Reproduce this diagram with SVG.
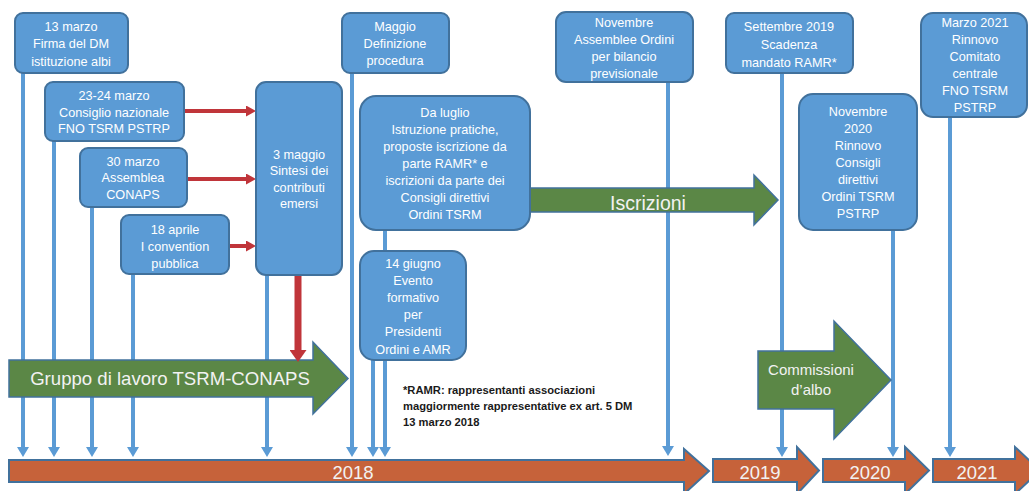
<svg xmlns="http://www.w3.org/2000/svg" width="1029" height="491" viewBox="0 0 1029 491">
<defs>
<style>
.box{fill:#5B9BD5;stroke:#41719C;stroke-width:2}
.bt{font-family:"Liberation Sans",Arial,sans-serif;font-size:12.7px;fill:#ffffff;text-anchor:middle}
.vl{stroke:#5B9BD5;stroke-width:4;fill:none}
.rl{stroke:#C0353A;stroke-width:4;fill:none}
.green{fill:#5B8746;stroke:#41719C;stroke-width:1.5}
.orange{fill:#C6623A;stroke:#41719C;stroke-width:2}
.big{font-family:"Liberation Sans",Arial,sans-serif;fill:#F2F2F2;text-anchor:middle}
.note{font-family:"Liberation Sans",Arial,sans-serif;font-size:11.2px;font-weight:bold;fill:#1A1A1A}
</style>
<marker id="ab" markerUnits="userSpaceOnUse" markerWidth="10" markerHeight="12" refX="0" refY="6" orient="auto">
<path d="M0,0 L10,6 L0,12 Z" fill="#5B9BD5"/>
</marker>
<marker id="ar" markerUnits="userSpaceOnUse" markerWidth="10" markerHeight="11" refX="0" refY="5.5" orient="auto">
<path d="M0,0 L10,5.5 L0,11 Z" fill="#C0353A"/>
</marker>
<marker id="ard" markerUnits="userSpaceOnUse" markerWidth="12" markerHeight="17" refX="0" refY="8.5" orient="auto">
<path d="M0,0 L12,8.5 L0,17 Z" fill="#C0353A"/>
</marker>
</defs>
<rect width="1029" height="491" fill="#ffffff"/>

<g id="timeline">
<polygon class="orange" points="9,460 684,460 684,449 709,471 684,494 684,482 9,482"/>
<polygon class="orange" points="713,459 797,459 797,447 819,470.5 797,494 797,482 713,482"/>
<polygon class="orange" points="823,459 905,459 905,447 929,470.5 905,494 905,482 823,482"/>
<polygon class="orange" points="933,459 1015,459 1015,447 1040,470.5 1015,494 1015,482 933,482"/>
<text class="big" x="353" y="479" font-size="18.5">2018</text>
<text class="big" x="760" y="479" font-size="18.5">2019</text>
<text class="big" x="870" y="479" font-size="18.5">2020</text>
<text class="big" x="977" y="479" font-size="18.5">2021</text>
</g>

<g id="connectors">
<line class="vl" x1="23" y1="70" x2="23" y2="447" marker-end="url(#ab)"/>
<line class="vl" x1="54" y1="138" x2="54" y2="447" marker-end="url(#ab)"/>
<line class="vl" x1="92" y1="204" x2="92" y2="447" marker-end="url(#ab)"/>
<line class="vl" x1="133" y1="271" x2="133" y2="447" marker-end="url(#ab)"/>
<line class="vl" x1="267" y1="272" x2="267" y2="447" marker-end="url(#ab)"/>
<line class="vl" x1="352" y1="70" x2="352" y2="447" marker-end="url(#ab)"/>
<line class="vl" x1="373" y1="357" x2="373" y2="447" marker-end="url(#ab)"/>
<line class="vl" x1="385" y1="227" x2="385" y2="447" marker-end="url(#ab)"/>
<line class="vl" x1="668" y1="79" x2="668" y2="446" marker-end="url(#ab)"/>
<line class="vl" x1="782" y1="70" x2="782" y2="447" marker-end="url(#ab)"/>
<line class="vl" x1="893" y1="227" x2="893" y2="447" marker-end="url(#ab)"/>
<line class="vl" x1="950" y1="114" x2="950" y2="447" marker-end="url(#ab)"/>
<line class="rl" x1="184" y1="111" x2="246" y2="111" marker-end="url(#ar)"/>
<line class="rl" x1="187" y1="179" x2="246" y2="179" marker-end="url(#ar)"/>
<line class="rl" x1="229" y1="246" x2="246" y2="246" marker-end="url(#ar)"/>
</g>

<g id="gruppo">
<polygon class="green" points="9,360 313,360 313,342 348,378.5 313,414 313,397 9,397"/>
<text class="big" x="170" y="385" font-size="18.6">Gruppo di lavoro TSRM-CONAPS</text>
</g>

<g id="iscrizioni">
<polygon class="green" points="530,188 754,188 754,175 778,200 754,225 754,212 530,212"/>
<text class="big" x="648" y="210" font-size="19.5">Iscrizioni</text>
</g>

<g id="commissioni">
<polygon class="green" points="758,351 834,351 834,321 891,380 834,439 834,409 758,409"/>
<text class="big" x="811" y="375" font-size="15">Commissioni</text>
<text class="big" x="811" y="395" font-size="15">d’albo</text>
</g>

<g id="red-down">
<line stroke="#C0353A" stroke-width="7" x1="298" y1="275" x2="298" y2="350" marker-end="url(#ard)"/>
</g>

<g id="n1">
<rect class="box" x="15" y="13" width="113" height="60" rx="8"/>
<text class="bt" x="71" y="30.5">13 marzo</text>
<text class="bt" x="71" y="48">Firma del DM</text>
<text class="bt" x="71" y="65.5">istituzione albi</text>
</g>
<g id="n2">
<rect class="box" x="45" y="82" width="139" height="59" rx="8"/>
<text class="bt" x="114" y="99.5">23-24 marzo</text>
<text class="bt" x="114" y="116.5">Consiglio nazionale</text>
<text class="bt" x="114" y="133">FNO TSRM PSTRP</text>
</g>
<g id="n3">
<rect class="box" x="80" y="148" width="107" height="59" rx="8"/>
<text class="bt" x="133" y="165.5">30 marzo</text>
<text class="bt" x="133" y="182">Assemblea</text>
<text class="bt" x="133" y="198.5">CONAPS</text>
</g>
<g id="n4">
<rect class="box" x="121" y="215" width="108" height="59" rx="8"/>
<text class="bt" x="175" y="233.5">18 aprile</text>
<text class="bt" x="175" y="250.5">I convention</text>
<text class="bt" x="175" y="267.5">pubblica</text>
</g>
<g id="n5">
<rect class="box" x="256" y="82" width="86" height="193" rx="10"/>
<text class="bt" x="299" y="158.5">3 maggio</text>
<text class="bt" x="299" y="175">Sintesi dei</text>
<text class="bt" x="299" y="191.5">contributi</text>
<text class="bt" x="299" y="208">emersi</text>
</g>
<g id="n6">
<rect class="box" x="342" y="13" width="107" height="60" rx="8"/>
<text class="bt" x="395" y="30.5">Maggio</text>
<text class="bt" x="395" y="47.5">Definizione</text>
<text class="bt" x="395" y="65">procedura</text>
</g>
<g id="n7">
<rect class="box" x="360" y="96" width="170" height="134" rx="16"/>
<text class="bt" x="445" y="116.5">Da luglio</text>
<text class="bt" x="445" y="133.6">Istruzione pratiche,</text>
<text class="bt" x="445" y="150.7">proposte iscrizione da</text>
<text class="bt" x="445" y="167.8">parte RAMR* e</text>
<text class="bt" x="445" y="184.9">iscrizioni da parte dei</text>
<text class="bt" x="445" y="202">Consigli direttivi</text>
<text class="bt" x="445" y="219.1">Ordini TSRM</text>
</g>
<g id="n8">
<rect class="box" x="360" y="251" width="106" height="109" rx="14"/>
<text class="bt" x="413" y="267.5">14 giugno</text>
<text class="bt" x="413" y="284.7">Evento</text>
<text class="bt" x="413" y="301.9">formativo</text>
<text class="bt" x="413" y="319.1">per</text>
<text class="bt" x="413" y="336.3">Presidenti</text>
<text class="bt" x="413" y="353.5">Ordini e AMR</text>
</g>
<g id="n9">
<rect class="box" x="556" y="12" width="137" height="70" rx="10"/>
<text class="bt" x="624" y="26.5">Novembre</text>
<text class="bt" x="624" y="43.8">Assemblee Ordini</text>
<text class="bt" x="624" y="61.1">per bilancio</text>
<text class="bt" x="624" y="78.4">previsionale</text>
</g>
<g id="n10">
<rect class="box" x="726" y="13" width="127" height="60" rx="8"/>
<text class="bt" x="789" y="30.5">Settembre 2019</text>
<text class="bt" x="789" y="48.5">Scadenza</text>
<text class="bt" x="789" y="66.5">mandato RAMR*</text>
</g>
<g id="n11">
<rect class="box" x="799" y="94" width="118" height="136" rx="14"/>
<text class="bt" x="858" y="115.5">Novembre</text>
<text class="bt" x="858" y="132.5">2020</text>
<text class="bt" x="858" y="149.5">Rinnovo</text>
<text class="bt" x="858" y="166.5">Consigli</text>
<text class="bt" x="858" y="183.5">direttivi</text>
<text class="bt" x="858" y="200.5">Ordini TSRM</text>
<text class="bt" x="858" y="217.5">PSTRP</text>
</g>
<g id="n12">
<rect class="box" x="921" y="13" width="106" height="104" rx="12"/>
<text class="bt" x="975" y="26.5">Marzo 2021</text>
<text class="bt" x="975" y="43.5">Rinnovo</text>
<text class="bt" x="975" y="60.5">Comitato</text>
<text class="bt" x="975" y="77.5">centrale</text>
<text class="bt" x="975" y="94.5">FNO TSRM</text>
<text class="bt" x="975" y="111.5">PSTRP</text>
</g>

<g id="footnote">
<text class="note" x="403" y="394">*RAMR: rappresentanti associazioni</text>
<text class="note" x="403" y="410">maggiormente rappresentative ex art. 5 DM</text>
<text class="note" x="403" y="426">13 marzo 2018</text>
</g>
</svg>
